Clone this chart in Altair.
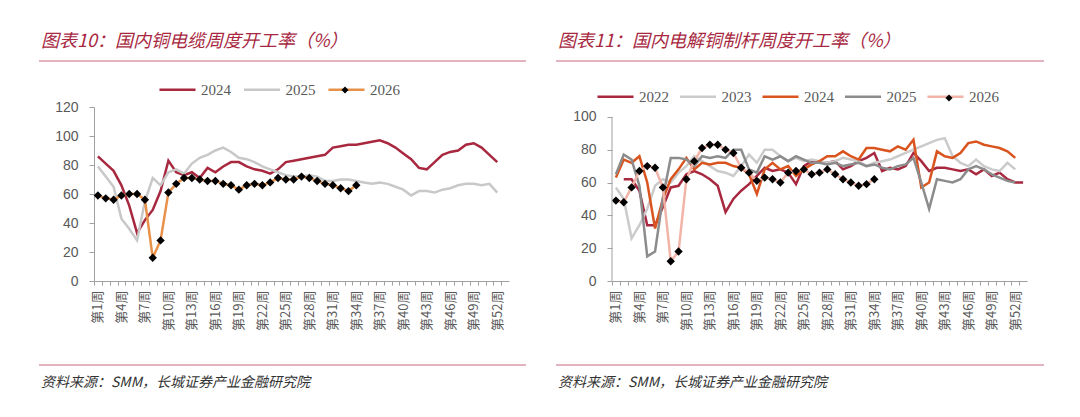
import altair as alt
import pandas as pd

weeks = list(range(1, 54))

# 图表10 国内铜电缆周度开工率
cable_years = ["2024", "2025", "2026"]
cable_colors = ["#A8283F", "#C8C8C8", "#E8914A"]
cable_2024 = [86, 81, 76, 66, 52, 33, 42, 49, 62, 83, 75, 73, 75, 71, 78, 75, 79, 82, 82, 79,
              77, 76, 74, 77, 82, 83, 84, 85, 86, 87, 92, 93, 94, 94, 95, 96, 97, 95, 92, 88,
              84, 78, 77, 82, 87, 89, 90, 94, 95, 92, 87, 82]
cable_2025 = [79, 72, 65, 43, 36, 28, 55, 71, 66, 75, 77, 74, 81, 85, 87, 90, 92, 89, 85, 84,
              82, 79, 77, 75, 73, 72, 72, 73, 72, 69, 69, 70, 70, 69, 68, 67, 68, 67, 65, 63,
              59, 62, 62, 61, 63, 64, 66, 67, 67, 66, 67, 61]
cable_2026 = [59, 57, 56, 59, 60, 60, 56, 16, 28, 61, 67, 71, 71, 70, 69, 69, 67, 66, 63, 66,
              67, 66, 68, 71, 70, 70, 72, 71, 69, 67, 66, 64, 62, 66]

# 图表11 国内电解铜制杆周度开工率
rod_years = ["2022", "2023", "2024", "2025", "2026"]
rod_colors = ["#A8283F", "#CBCBCB", "#D9541E", "#8C8C8C", "#F2B4A8"]
rod_2022 = [None, 62, 62, 55, 34, 34, 45, 57, 58, 65, 67, 65, 62, 58, 42, 50, 55, 59, 64, 69,
            67, 68, 66, 59, 70, 73, 72, 72, 73, 68, 70, 73, 75, 78, 67, 69, 68, 70, 78, 73,
            67, 69, 69, 68, 67, 68, 65, 68, 64, 66, 62, 60, 60]
rod_2023 = [57, 50, 26, 34, 44, 58, 62, 60, 66, 70, 76, 73, 70, 67, 66, 64, 70, 77, 72, 80,
            80, 76, 73, 75, 73, 74, 73, 72, 73, 75, 74, 73, 70, 72, 73, 74, 76, 78, 80, 82,
            84, 86, 87, 76, 72, 70, 74, 70, 68, 67, 72, 68]
rod_2024 = [63, 74, 72, 76, 60, 32, 50, 62, 68, 75, 68, 72, 71, 72, 72, 70, 69, 65, 53, 68,
            72, 68, 70, 64, 68, 71, 73, 76, 76, 79, 76, 74, 81, 81, 80, 79, 82, 80, 86, 57,
            60, 79, 76, 75, 78, 84, 85, 83, 82, 81, 79, 75]
rod_2025 = [65, 77, 74, 58, 15, 18, 51, 75, 75, 74, 70, 76, 75, 76, 75, 80, 80, 68, 66, 76,
            74, 76, 73, 76, 74, 72, 72, 71, 72, 70, 71, 72, 70, 71, 69, 68, 70, 71, 75, 60,
            44, 62, 61, 60, 62, 68, 70, 68, 65, 63, 61, 60]
rod_2026 = [49, 48, 57, 67, 70, 69, 57, 12, 18, 62, 73, 81, 83, 83, 80, 78, 69, 66, 61, 63,
            62, 60, 66, 67, 68, 65, 66, 68, 65, 62, 60, 58, 59, 62]

TITLE_RED = "#A8283F"
RULE_RED = "#C9687C"
AXIS_GRAY = "#A0A0A0"
LABEL_GRAY = "#595959"
CJK = "Noto Sans CJK SC"


def long_table(names, series):
    rows = []
    for name, values in zip(names, series):
        for w, v in zip(weeks, values):
            if v is not None:
                rows.append({"week": w, "year": name, "rate": v})
    return pd.DataFrame(rows)


def text_layer(text, x, y, size, color):
    return (
        alt.Chart(pd.DataFrame({"t": [text]}))
        .mark_text(align="left", baseline="middle", font=CJK, fontSize=size,
                   fontStyle="italic", color=color)
        .encode(x=alt.value(x), y=alt.value(y), text="t:N")
    )


def rule_layer(x1, x2, y):
    return (
        alt.Chart(pd.DataFrame({"r": [0]}))
        .mark_rule(color=RULE_RED, strokeWidth=1)
        .encode(x=alt.value(x1), x2=alt.value(x2), y=alt.value(y))
    )


def panel(df, years, colors, top, yticks, title, left, legend_x, legend_y,
          diamond_x, diamond_y, column_pad, draw_domain):
    x = alt.X("week:Q").scale(domain=[0.5, 53.5], nice=False, zero=False).axis(
        values=weeks, title=None, grid=False, labelAngle=270,
        labelExpr="(datum.value - 1) % 3 == 0 && datum.value < 53 ? '第' + datum.value + '周' : ''",
        labelFont=CJK, labelFontSize=13, labelColor=LABEL_GRAY, labelOverlap=False,
        labelFlush=False, labelPadding=5, tickSize=4, tickColor=AXIS_GRAY,
        domainColor=AXIS_GRAY, tickOffset=-3.9, labelOffset=3.9,
    )
    y_axis = alt.Axis(
        values=yticks, title=None, grid=False, labelFont="Liberation Sans",
        labelFontSize=14, labelColor=LABEL_GRAY, labelPadding=11, tickSize=5,
        labelOverlap=False, tickColor=AXIS_GRAY, domain=not draw_domain,
        domainColor=AXIS_GRAY,
    )
    y_scale = alt.Scale(domain=[0, top], nice=False)
    y = alt.Y("rate:Q", scale=y_scale, axis=y_axis)

    lines = alt.Chart(df).mark_line(strokeWidth=2.5).encode(
        x=x, y=y,
        color=alt.Color("year:N").scale(domain=years, range=colors).legend(
            orient="none", legendX=legend_x, legendY=legend_y, direction="horizontal",
            title=None, symbolType="stroke", symbolSize=1300, symbolStrokeWidth=2.5,
            labelFont="Liberation Serif", labelFontSize=15, labelColor=LABEL_GRAY,
            labelOffset=4, columnPadding=column_pad,
        ),
    )

    points = (
        alt.Chart(df[df["year"] == years[-1]].assign(mk=years[-1]))
        .mark_point(filled=True, color="black", size=70, opacity=1)
        .encode(
            x=x, y=y,
            shape=alt.Shape("mk:N").scale(domain=[years[-1]], range=["diamond"]).legend(
                orient="none", legendX=diamond_x, legendY=diamond_y, title=None,
                symbolFillColor="black", symbolStrokeColor="black", symbolSize=50,
                labelExpr="''",
            ),
        )
    )

    layers = [lines, points]
    if draw_domain:
        # y axis line that stops at 100, the scale runs a little higher
        axis_line = (
            alt.Chart(pd.DataFrame({"lo": [0], "hi": [100]}))
            .mark_rule(color=AXIS_GRAY)
            .encode(x=alt.value(0), y=alt.Y("lo:Q", scale=y_scale, axis=y_axis), y2="hi:Q")
        )
        layers.append(axis_line)
    layers += [text_layer(title, left + 2, -65, 18, TITLE_RED),
               rule_layer(left, 432, -46),
               rule_layer(left, 432, 258),
               text_layer("资料来源：SMM，长城证券产业金融研究院", left + 2, 276, 14, "#333333")]
    return alt.layer(*layers).properties(width=415, height=174)


cable = long_table(cable_years, [cable_2024, cable_2025, cable_2026])
rod = long_table(rod_years, [rod_2022, rod_2023, rod_2024, rod_2025, rod_2026])

left = panel(cable, cable_years, cable_colors, 120, [0, 20, 40, 60, 80, 100, 120],
             "图表10：国内铜电缆周度开工率（%）", -55, 64, -37, 246, -22, 7.5, False)
right = panel(rod, rod_years, rod_colors, 106, [0, 20, 40, 60, 80, 100],
              "图表11：国内电解铜制杆周度开工率（%）", -56, -16, -30, 332, -14, 5.5, True)

chart = (
    alt.hconcat(left, right, spacing=28)
    .resolve_scale(color="independent", shape="independent")
    .properties(padding={"left": 30, "top": 25, "right": 5, "bottom": 5})
    .configure_view(stroke=None)
    .configure_axis(labelOverlap=False)
)

chart.save("out.html", embed_options={"renderer": "svg", "actions": False})
